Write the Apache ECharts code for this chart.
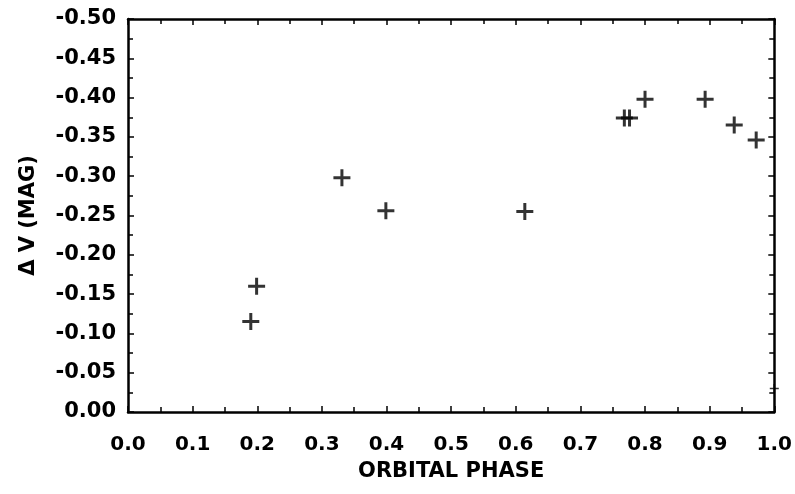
<!DOCTYPE html>
<html>
<head>
<meta charset="utf-8">
<script src="https://cdn.jsdelivr.net/npm/echarts@6/dist/echarts.min.js"></script>
<style>
html,body{margin:0;padding:0;background:#fff}
#chart{width:795px;height:494px}
</style>
</head>
<body>
<div id="chart"></div>
<script>
// orbital phase / delta V (mag)
var phase = [0.190, 0.199, 0.331, 0.399, 0.614, 0.768, 0.776, 0.800, 0.893, 0.938, 0.972];
var dmag = [-0.115, -0.160, -0.298, -0.256, -0.255, -0.374, -0.374, -0.398, -0.398, -0.365, -0.346];
// faint mark sitting on the right frame
var edgePhase = [1.0];
var edgeMag = [-0.030];
var xTicks = ['0.0', '0.1', '0.2', '0.3', '0.4', '0.5', '0.6', '0.7', '0.8', '0.9', '1.0'];
var yTicks = ['0.00', '-0.05', '-0.10', '-0.15', '-0.20', '-0.25', '-0.30', '-0.35', '-0.40', '-0.45', '-0.50'];

var pts = phase.map(function (p, i) { return [p, dmag[i]]; });
var edgePts = edgePhase.map(function (p, i) { return [p, edgeMag[i]]; });

var plus = 'path://M7,0h3v7h7v3h-7v7h-3v-7h-7v-3h7z';
var font = 'DejaVu Sans';

var myChart = echarts.init(document.getElementById('chart'));
var frame = {
    axisLine: { show: true, onZero: false, lineStyle: { color: '#000', width: 2.5 } },
    axisTick: { show: true, inside: true, length: 6, lineStyle: { color: '#000', width: 1.5 } },
    minorTick: { show: true, splitNumber: 2, length: 5, lineStyle: { color: '#000', width: 1.5 } },
    splitLine: { show: false }
};
option = {
    animation: false,
    backgroundColor: '#fff',
    grid: { left: 128, right: 20, top: 19, bottom: 82 },
    xAxis: [
        Object.assign({
            type: 'value', min: 0, max: 1, interval: 0.1, position: 'bottom',
            name: 'ORBITAL PHASE', nameLocation: 'middle', nameGap: 49,
            nameTextStyle: { fontFamily: font, fontWeight: 'bold', fontSize: 21, color: '#000' },
            axisLabel: {
                margin: 23, fontFamily: font, fontWeight: 'bold', fontSize: 20, color: '#000',
                formatter: function (v) { return xTicks[Math.round(v * 10)]; }
            }
        }, frame),
        Object.assign({
            type: 'value', min: 0, max: 1, interval: 0.1, position: 'top',
            axisLabel: { show: false }
        }, frame)
    ],
    yAxis: [
        Object.assign({
            type: 'value', min: -0.5, max: 0, interval: 0.05, inverse: true, position: 'left',
            name: 'Δ V (MAG)', nameLocation: 'middle', nameGap: 89, nameRotate: 90,
            nameTextStyle: { fontFamily: font, fontWeight: 'bold', fontSize: 21, color: '#000' },
            axisLabel: {
                margin: 12, fontFamily: font, fontWeight: 'bold', fontSize: 21, color: '#000',
                formatter: function (v) { return yTicks[Math.round(-v * 20)]; }
            }
        }, frame),
        Object.assign({
            type: 'value', min: -0.5, max: 0, interval: 0.05, inverse: true, position: 'right',
            axisLabel: { show: false }
        }, frame)
    ],
    series: [{
        type: 'scatter',
        symbol: plus,
        symbolSize: 17,
        itemStyle: { color: '#000' },
        data: pts
    }, {
        type: 'scatter',
        symbol: plus,
        symbolSize: 9,
        clip: false,
        z: 5,
        itemStyle: { color: '#000' },
        data: edgePts
    }]
};
myChart.setOption(option);
</script>
</body>
</html>
